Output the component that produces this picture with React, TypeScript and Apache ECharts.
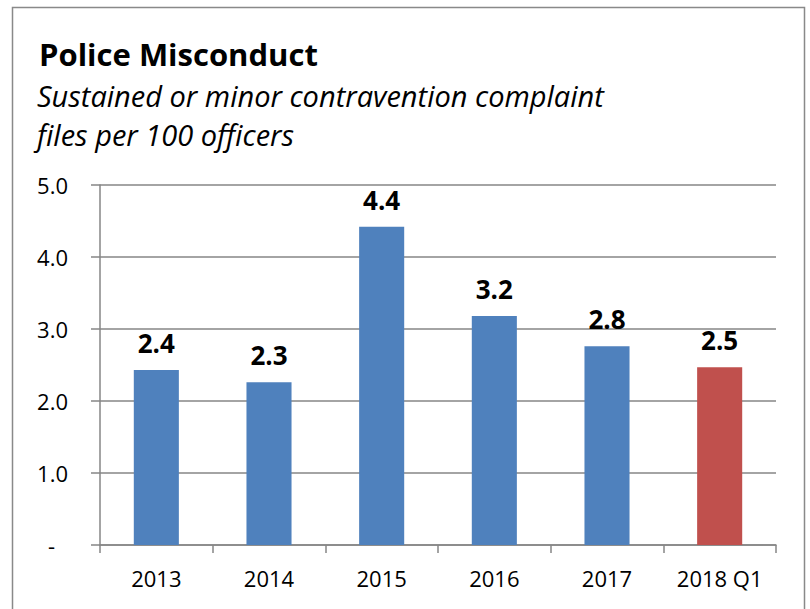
import React, { useEffect, useRef } from "react";
import * as echarts from "echarts";

const categories: string[] = ["2013", "2014", "2015", "2016", "2017", "2018 Q1"];
const values: number[] = [2.43, 2.26, 4.42, 3.18, 2.76, 2.47];
const barColors: string[] = ["#4F81BD", "#4F81BD", "#4F81BD", "#4F81BD", "#4F81BD", "#C0504D"];
const titleText = "Police Misconduct";
const subtitleLines: string[] = ["Sustained or minor contravention complaint", "files per 100 officers"];

const FONT = "'Open Sans', 'Noto Sans', sans-serif";

export default function App() {
  const ref = useRef<HTMLDivElement>(null);
  useEffect(() => {
    if (!ref.current) return;
    const chart = echarts.init(ref.current, null, { renderer: "svg" });
    chart.setOption({
      animation: false,
      backgroundColor: "#ffffff",
      textStyle: { fontFamily: FONT },
      graphic: [
        {
          type: "rect",
          shape: { x: 12.5, y: 7.5, width: 792, height: 620 },
          style: { fill: "none", stroke: "#898989", lineWidth: 1.5 },
          silent: true,
        },
        {
          type: "text",
          x: 39,
          y: 38,
          style: {
            text: titleText,
            fontFamily: FONT,
            fontWeight: "bold",
            fontSize: 31,
            fill: "#000",
            textVerticalAlign: "top",
          },
        },
        {
          type: "text",
          x: 37,
          y: 81,
          style: {
            text: subtitleLines[0],
            fontFamily: FONT,
            fontStyle: "italic",
            fontSize: 29,
            fill: "#000",
            textVerticalAlign: "top",
          },
        },
        {
          type: "text",
          x: 37,
          y: 120,
          style: {
            text: subtitleLines[1],
            fontFamily: FONT,
            fontStyle: "italic",
            fontSize: 29,
            fill: "#000",
            textVerticalAlign: "top",
          },
        },
      ],
      grid: { left: 100, right: 34, top: 185, bottom: 64, containLabel: false },
      xAxis: {
        type: "category",
        data: categories,
        axisLine: { lineStyle: { color: "#868686", width: 1.5 } },
        axisTick: { show: true, length: 8, lineStyle: { color: "#868686", width: 1.5 } },
        axisLabel: { color: "#000", fontSize: 22, margin: 22, fontFamily: FONT },
      },
      yAxis: {
        type: "value",
        min: 0,
        max: 5,
        interval: 1,
        axisLine: { show: true, lineStyle: { color: "#868686", width: 1.5 } },
        axisTick: { show: true, length: 9, lineStyle: { color: "#868686", width: 1.5 } },
        splitLine: { lineStyle: { color: "#868686", width: 1.5 } },
        axisLabel: {
          color: "#000",
          fontSize: 22,
          margin: 32,
          fontFamily: FONT,
          formatter: (v: number) => (v === 0 ? "{d|-}" : v.toFixed(1)),
          rich: { d: { fontSize: 22, color: "#000", padding: [0, 13, 0, 0] } },
        },
      },
      series: [
        {
          type: "bar",
          data: values.map((v, i) => ({ value: v, itemStyle: { color: barColors[i] } })),
          barCategoryGap: "60%",
          label: {
            show: true,
            position: "top",
            distance: 14,
            color: "#000",
            fontWeight: "bold",
            fontSize: 26,
            fontFamily: FONT,
            formatter: (p: any) => Number(p.value).toFixed(1),
          },
        },
      ],
    });
    return () => chart.dispose();
  }, []);
  return <div ref={ref} style={{ position: "absolute", left: 0, top: 0, width: 810, height: 609 }} />;
}
